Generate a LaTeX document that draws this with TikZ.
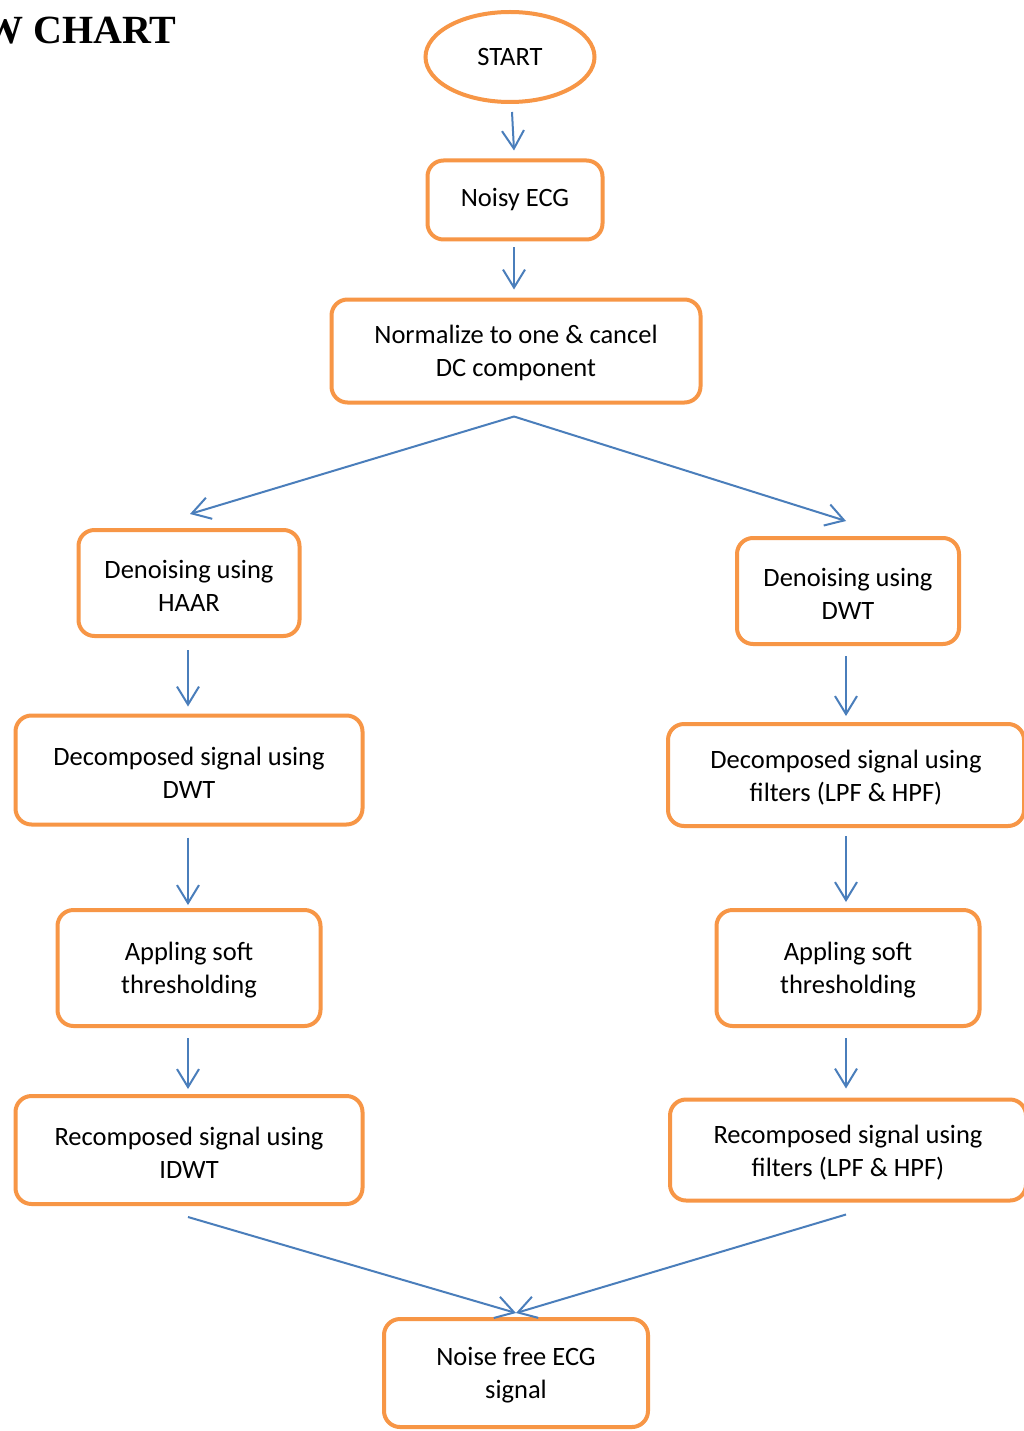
\documentclass[tikz,border=0pt]{standalone}
\usepackage{fontspec}
\setmainfont{Carlito}
\newfontfamily\titlefont{Liberation Serif}
\usetikzlibrary{arrows.meta,calc,shapes.geometric}
\definecolor{boxor}{HTML}{F79646}
\definecolor{arrblue}{HTML}{4A7EBB}
\begin{document}
\begin{tikzpicture}[x=1pt,y=-1pt,
  box/.style={draw=boxor,line width=4pt,rounded corners=16pt,fill=white,align=center,
    font=\fontsize{26.5}{33}\selectfont,inner sep=0pt},
  arr/.style={draw=arrblue,line width=2pt,-{Straight Barb[length=18pt,width=22pt,line width=2pt]}}]
\useasboundingbox[fill=white] (0,0) rectangle (1024,1431);

\node[anchor=base east,font=\titlefont\bfseries\fontsize{40}{46}\selectfont] (title) at (180,44) {W CHART};

\node[ellipse,draw=boxor,line width=4pt,fill=white,minimum width=169pt,minimum height=90pt,inner sep=0pt,
  font=\fontsize{26.5}{33}\selectfont] (start) at (510,57) {START};
\node[box,minimum width=175pt,minimum height=79pt] (noisy) at (515,200) {\strut Noisy ECG};
\node[box,minimum width=369pt,minimum height=103pt] (norm) at (516,351) {\strut Normalize to one \& cancel\\DC component};

\node[box,minimum width=221pt,minimum height=106pt] (haar) at (189,583) {\strut Denoising using\\HAAR};
\node[box,minimum width=347pt,minimum height=109pt] (decl) at (189,770) {\strut Decomposed signal using\\DWT};
\node[box,minimum width=263pt,minimum height=116pt] (appl) at (189,968) {\strut Appling soft\\thresholding};
\node[box,minimum width=347pt,minimum height=108pt] (recl) at (189,1150) {\strut Recomposed signal using\\IDWT};

\node[box,minimum width=222pt,minimum height=106pt] (dwtr) at (848,591) {\strut Denoising using\\DWT};
\node[box,minimum width=356pt,minimum height=102pt] (decr) at (846,775) {\strut Decomposed signal using\\filters (LPF \& HPF)};
\node[box,minimum width=263pt,minimum height=116pt] (applr) at (848,968) {\strut Appling soft\\thresholding};
\node[box,minimum width=356pt,minimum height=101pt] (recr) at (848,1150) {\strut Recomposed signal using\\filters (LPF \& HPF)};

\node[box,minimum width=264pt,minimum height=108pt] (nfree) at (516,1373) {\strut Noise free ECG\\signal};

% connectors
\draw[arr] ([xshift=2pt,yshift=-8pt]start.south) -- ([xshift=-1pt,yshift=8pt]noisy.north);
\draw[arr] ([xshift=-1pt,yshift=-6pt]noisy.south) -- ([xshift=-2pt,yshift=8pt]norm.north);
\coordinate (split) at ([xshift=-2pt,yshift=-12pt]norm.south);
\draw[arr] (split) -- ([xshift=1pt,yshift=14pt]haar.north);
\draw[arr] (split) -- ([xshift=-2pt,yshift=15pt]dwtr.north);

\draw[arr] ([xshift=-1pt,yshift=-12pt]haar.south) -- ([xshift=-1pt,yshift=7pt]decl.north);
\draw[arr] ([xshift=-1pt,yshift=-11pt]decl.south) -- ([xshift=-1pt,yshift=3pt]appl.north);
\draw[arr] ([xshift=-1pt,yshift=-10pt]appl.south) -- ([xshift=-1pt,yshift=5pt]recl.north);

\draw[arr] ([xshift=-2pt,yshift=-10pt]dwtr.south) -- ([yshift=6pt]decr.north);
\draw[arr] ([yshift=-8pt]decr.south) -- ([xshift=-2pt,yshift=6pt]applr.north);
\draw[arr] ([xshift=-2pt,yshift=-10pt]applr.south) -- ([xshift=-2pt,yshift=9pt]recr.north);

\draw[arr] ([xshift=-1pt,yshift=-11pt]recl.south) -- ([yshift=4pt]nfree.north);
\draw[arr] ([xshift=-2pt,yshift=-12pt]recr.south) -- ([yshift=4pt]nfree.north);
\end{tikzpicture}
\end{document}
